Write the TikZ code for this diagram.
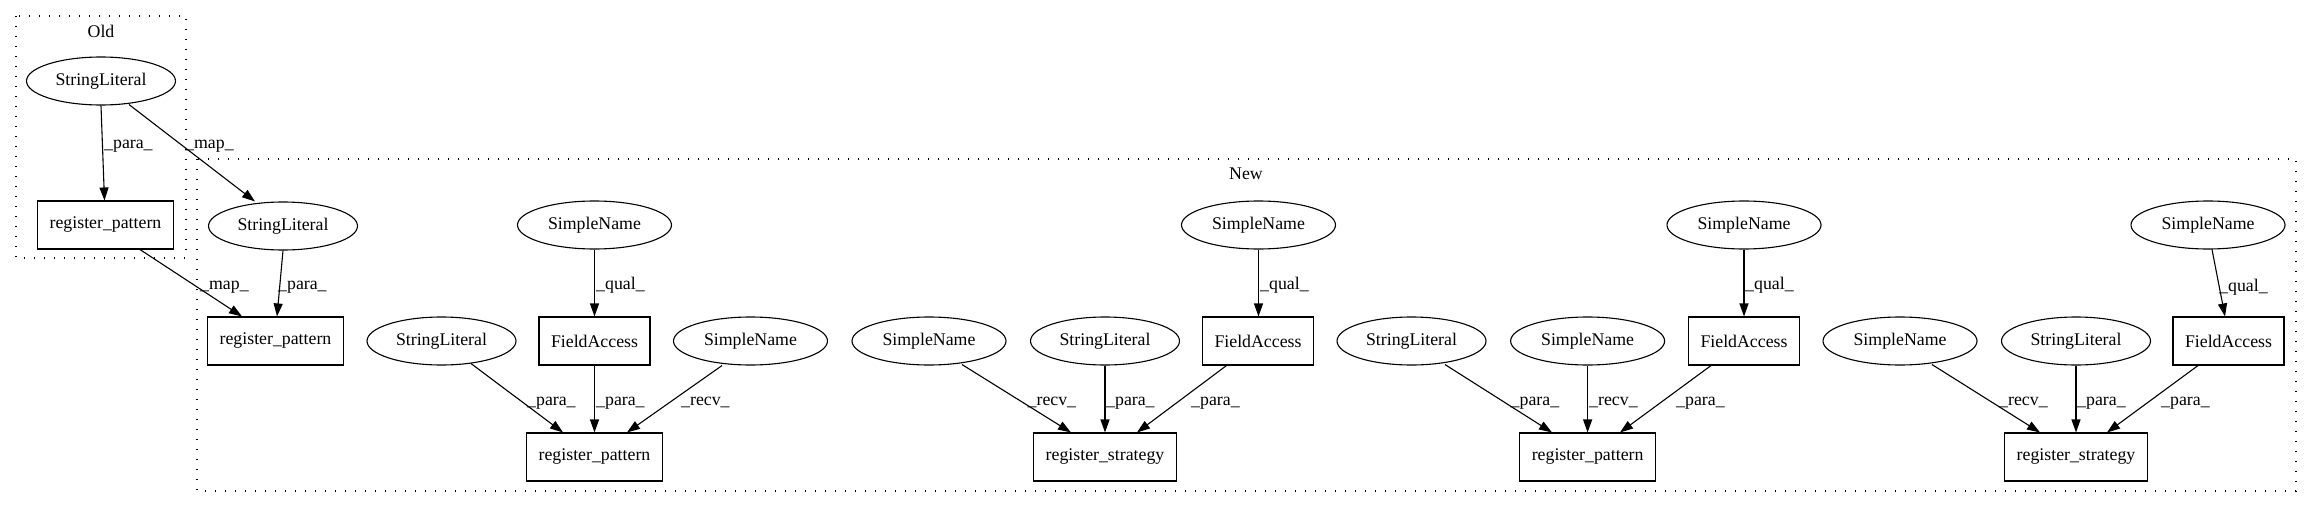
\documentclass[tikz,border=0pt]{standalone}
\usepackage{fontspec}
\setmainfont{Liberation Serif}
\usetikzlibrary{arrows.meta,shapes.geometric,calc}
\newcommand\gvfont{\fontsize{17.8}{20}\selectfont}
\tikzset{
  ell/.style={ellipse, draw, line width=1.1pt, minimum height=48pt, inner sep=0pt, font=\gvfont},
  slit/.style={ell, minimum width=149pt},
  sname/.style={ell, minimum width=154pt},
  box/.style={rectangle, draw, line width=1.1pt, minimum height=48pt, inner xsep=12pt, inner ysep=0pt, font=\gvfont},
  edge/.style={line width=1.1pt, -{Triangle[length=13pt,width=9pt]}},
  lab/.style={anchor=base west, inner sep=0pt, font=\gvfont},
  clus/.style={draw, line width=1.3pt, dash pattern=on 1.3pt off 8.7pt},
  cluslab/.style={inner sep=0pt, font=\gvfont},
}
\begin{document}
\begin{tikzpicture}[x=1pt,y=-1pt]
\useasboundingbox (0,0) rectangle (2312,508);
% clusters
\draw[clus] (16,16) rectangle (186,258);
\node[cluslab] (oldlab) at (101,31) {Old};
\draw[clus] (197,159) rectangle (2296,491);
\node[cluslab] (newlab) at (1246,174) {New};
% old nodes
\node[slit] (osl) at (101,81) {StringLiteral};
\node[box] (orp) at (105.5,225) {register\_pattern};
% new nodes
\node[slit] (nsl) at (283,226) {StringLiteral};
\node[box] (nrp) at (275.5,341) {register\_pattern};
% group 1
\node[sname] (snat) at (594.5,225) {SimpleName};
\node[box] (faa) at (594.5,341) {FieldAccess};
\node[slit] (sla) at (441.5,341) {StringLiteral};
\node[sname] (sna) at (750.5,341) {SimpleName};
\node[box] (rpa) at (594.5,457) {register\_pattern};
% group 2
\node[sname] (snb) at (929,341) {SimpleName};
\node[slit] (slb) at (1105,341) {StringLiteral};
\node[box] (fab) at (1258,341) {FieldAccess};
\node[sname] (snbt) at (1258.5,225) {SimpleName};
\node[box] (rsb) at (1105,457) {register\_strategy};
% group 3
\node[slit] (slc) at (1411.5,341) {StringLiteral};
\node[sname] (snc) at (1587.6,341) {SimpleName};
\node[box] (fac) at (1744,341) {FieldAccess};
\node[sname] (snct) at (1744,225) {SimpleName};
\node[box] (rpc) at (1587.6,457) {register\_pattern};
% group 4
\node[sname] (snd) at (1900,341) {SimpleName};
\node[slit] (sld) at (2076,341) {StringLiteral};
\node[box] (fad) at (2228.5,341) {FieldAccess};
\node[sname] (sndt) at (2208,225) {SimpleName};
\node[box] (rsd) at (2076,457) {register\_strategy};
% edges: old
\draw[edge] (osl.south) -- ($(orp.north)+(-1,0)$);
\node[lab] (l1) at (104,148) {\_para\_};
\draw[edge] ($(osl.south)+(28,-1)$) -- ($(nsl.north)+(-28,0)$);
\node[lab] (l2) at (185,148) {\_map\_};
\draw[edge] ($(orp.south)+(34.5,0)$) -- ($(nrp.north)+(-33.5,0)$);
\node[lab] (l3) at (200,289) {\_map\_};
\draw[edge] (nsl.south) -- ($(nrp.north)+(1.5,0)$);
\node[lab] (l4) at (278,289) {\_para\_};
% group 1 edges
\draw[edge] (snat) -- (faa);
\node[lab] (l5) at (596,289) {\_qual\_};
\draw[edge] ($(sla.south)+(29.5,-2)$) -- ($(rpa.north)+(-31.5,0)$);
\node[lab] (l6) at (527,405) {\_para\_};
\draw[edge] (faa) -- (rpa);
\node[lab] (l7) at (596,405) {\_para\_};
\draw[edge] ($(sna.south)+(-28.5,0)$) -- ($(rpa.north)+(32.5,0)$);
\node[lab] (l8) at (681,405) {\_recv\_};
% group 2 edges
\draw[edge] ($(snb.south)+(33,-1)$) -- ($(rsb.north)+(-34,0)$);
\node[lab] (l9) at (1027.5,405) {\_recv\_};
\draw[edge] (slb) -- (rsb);
\node[lab] (l10) at (1106,405) {\_para\_};
\draw[edge] ($(fab.south)+(-31.5,0)$) -- ($(rsb.north)+(32,0)$);
\node[lab] (l11) at (1191,405) {\_para\_};
\draw[edge] (snbt.south) -- ($(fab.north)+(0.5,0)$);
\node[lab] (l12) at (1260,289) {\_qual\_};
% group 3 edges
\draw[edge] ($(slc.south)+(33.5,-1)$) -- ($(rpc.north)+(-35.6,0)$);
\node[lab] (l13) at (1510.5,405) {\_para\_};
\draw[edge] (snc) -- (rpc);
\node[lab] (l14) at (1589,405) {\_recv\_};
\draw[edge] ($(fac.south)+(-33,0)$) -- ($(rpc.north)+(32.4,0)$);
\node[lab] (l15) at (1676,405) {\_para\_};
\draw[edge] (snct) -- (fac);
\node[lab] (l16) at (1745,289) {\_qual\_};
% group 4 edges
\draw[edge] ($(snd.south)+(32,-1)$) -- ($(rsd.north)+(-36,0)$);
\node[lab] (l17) at (1999,405) {\_recv\_};
\draw[edge] (sld) -- (rsd);
\node[lab] (l18) at (2077,405) {\_para\_};
\draw[edge] ($(fad.south)+(-30.5,0)$) -- ($(rsd.north)+(31,0)$);
\node[lab] (l19) at (2161,405) {\_para\_};
\draw[edge] ($(sndt.south)+(4,0)$) -- ($(fad.north)+(-3.5,0)$);
\node[lab] (l20) at (2219,291) {\_qual\_};
\end{tikzpicture}
\end{document}
